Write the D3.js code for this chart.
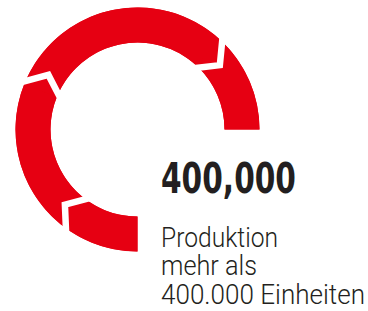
<!DOCTYPE html>
<html>
<head>
<meta charset="utf-8">
<script src="https://cdn.jsdelivr.net/npm/d3@7"></script>
<style>
  html, body { margin: 0; padding: 0; background: #fff; }
  svg { display: block; }
</style>
</head>
<body>
<div class="chart"></div>
<script>
// segmentos del anillo (en grados de recorrido, total 270)
const segments = [34.5, 77.5, 110.5, 47.5];
const segmentColor = '#e60012';

// textos
const headline = '400,000';
const lines = ['Produktion', 'mehr als', '400.000 Einheiten'];

const width = 368;
const height = 311;

const svg = d3.select('.chart')
  .append('svg')
  .attr('width', width)
  .attr('height', height);

const cx = 137.5, cy = 129.5;
const outer = 122, inner = 87;

const g = svg.append('g')
  .attr('transform', `translate(${cx}, ${cy})`);

// el anillo empieza abajo y termina a las 3
const pie = d3.pie()
  .sort(null)
  .startAngle(Math.PI)
  .endAngle(2.5 * Math.PI);

const arcs = pie(segments);

const arc = d3.arc()
  .innerRadius(inner)
  .outerRadius(outer);

// fondo entero para que no se vean costuras entre segmentos
g.append('path')
  .attr('fill', segmentColor)
  .attr('d', arc({ startAngle: Math.PI, endAngle: 2.5 * Math.PI }));

g.selectAll('path.seg')
  .data(arcs)
  .join('path')
  .attr('class', 'seg')
  .attr('fill', segmentColor)
  .attr('d', arc);

// separadores en forma de chevron
const tip = 9.5 * Math.PI / 180;
const chevron = d3.lineRadial()
  .angle(d => d[0])
  .radius(d => d[1]);

g.selectAll('path.sep')
  .data(arcs.slice(1))
  .join('path')
  .attr('class', 'sep')
  .attr('fill', 'none')
  .attr('stroke', '#fff')
  .attr('stroke-width', 6.5)
  .attr('stroke-linejoin', 'miter')
  .attr('d', d => chevron([
    [d.startAngle, outer + 4],
    [d.startAngle + tip, (inner + outer) / 2],
    [d.startAngle, inner - 4]
  ]));

// cifra grande
svg.append('text')
  .attr('x', 161)
  .attr('y', 193)
  .attr('font-family', '"Liberation Sans Narrow", "DejaVu Sans Condensed", sans-serif')
  .attr('font-weight', 700)
  .attr('font-size', 42)
  .attr('fill', '#231f20')
  .attr('textLength', 135)
  .attr('lengthAdjust', 'spacingAndGlyphs')
  .text(headline);

const widths = [117, 96, 204];

svg.selectAll('text.line')
  .data(lines)
  .join('text')
  .attr('class', 'line')
  .attr('x', 161)
  .attr('y', (d, i) => 246.5 + i * 28.5)
  .attr('font-family', 'Roboto, sans-serif')
  .attr('font-weight', 300)
  .attr('font-size', 27)
  .attr('fill', '#231f20')
  .attr('textLength', (d, i) => widths[i])
  .attr('lengthAdjust', 'spacingAndGlyphs')
  .text(d => d);
</script>
</body>
</html>
